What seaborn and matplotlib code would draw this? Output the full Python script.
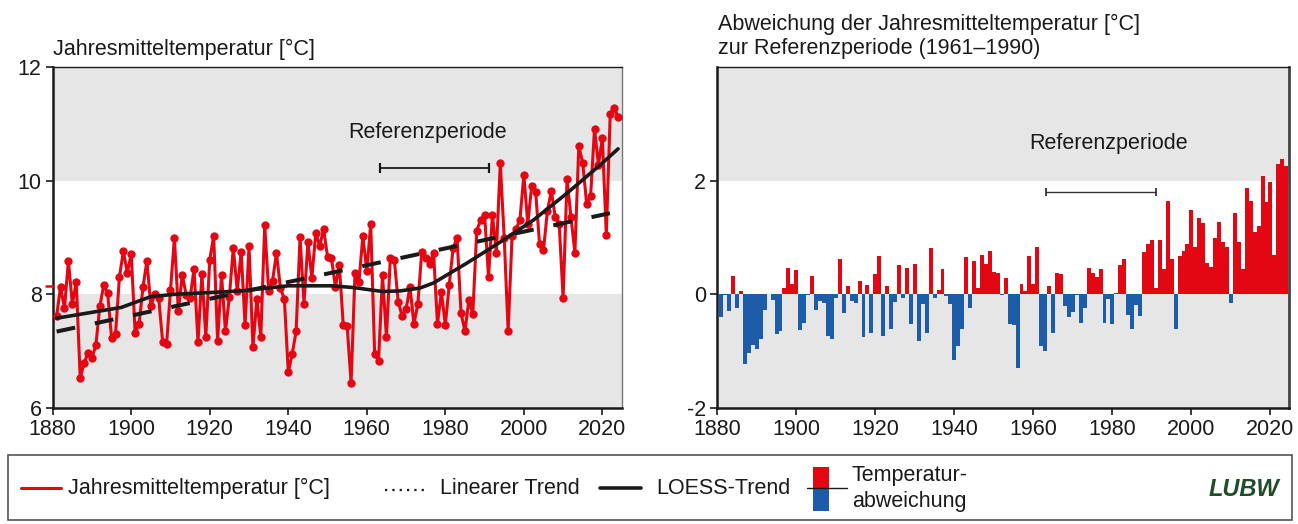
import numpy as np
import pandas as pd
import matplotlib
matplotlib.use("Agg")
import matplotlib.pyplot as plt
from matplotlib.patches import Rectangle
import seaborn as sns

# ---------------------------------------------------------------- data
years = list(range(1881, 2025))

# annual mean temperature [°C]
temperature = [
    7.62, 8.13, 7.76, 8.59, 7.83, 8.22, 6.53, 6.79, 6.97, 6.88,
    7.11, 7.79, 8.16, 8.02, 7.23, 7.30, 8.31, 8.76, 8.38, 8.71,
    7.32, 7.48, 8.13, 8.59, 7.79, 8.01, 7.93, 7.17, 7.12, 8.07,
    8.99, 7.71, 8.34, 7.99, 7.94, 8.45, 7.16, 8.36, 7.25, 8.61,
    9.03, 7.18, 8.34, 7.35, 7.96, 8.82, 8.06, 8.75, 7.46, 8.85,
    7.07, 7.92, 7.25, 9.22, 8.06, 8.24, 8.73, 8.11, 7.92, 6.63,
    6.95, 7.35, 9.01, 7.83, 8.92, 8.29, 9.08, 8.85, 9.15, 8.66,
    8.64, 8.13, 8.52, 7.46, 7.44, 6.44, 8.38, 8.22, 9.03, 8.41,
    9.24, 6.95, 6.83, 8.34, 7.25, 8.64, 8.61, 7.87, 7.62, 7.74,
    8.13, 7.48, 7.83, 8.75, 8.64, 8.54, 8.73, 7.48, 8.04, 7.46,
    8.17, 8.82, 8.99, 7.67, 7.35, 7.90, 7.65, 9.12, 9.31, 9.40,
    8.31, 9.40, 8.73, 10.31, 8.99, 7.35, 9.03, 9.15, 9.31, 10.10,
    9.24, 9.91, 9.80, 8.89, 8.78, 9.47, 9.82, 9.36, 9.24, 7.94,
    10.03, 9.36, 8.73, 10.61, 10.31, 9.59, 9.73, 10.91, 10.28, 10.75,
    9.05, 11.17, 11.28, 11.12,
]

# deviation from the 1961-1990 reference period [°C]
anomaly = [
    -0.40, -0.02, -0.29, 0.33, -0.24, 0.05, -1.23, -1.03, -0.89, -0.96,
    -0.79, -0.28, 0.01, -0.10, -0.70, -0.65, 0.12, 0.46, 0.18, 0.43,
    -0.63, -0.51, -0.02, 0.33, -0.28, -0.11, -0.16, -0.74, -0.78, -0.06,
    0.63, -0.33, 0.14, -0.12, -0.16, 0.23, -0.75, 0.16, -0.68, 0.35,
    0.67, -0.73, 0.14, -0.61, -0.14, 0.51, -0.07, 0.46, -0.52, 0.53,
    -0.82, -0.17, -0.68, 0.81, -0.07, 0.07, 0.44, -0.03, -0.17, -1.16,
    -0.91, -0.61, 0.65, -0.24, 0.58, 0.11, 0.70, 0.53, 0.76, 0.39,
    0.37, -0.02, 0.28, -0.52, -0.54, -1.30, 0.18, 0.05, 0.67, 0.19,
    0.83, -0.91, -1.00, 0.14, -0.68, 0.37, 0.35, -0.21, -0.40, -0.31,
    -0.02, -0.51, -0.24, 0.46, 0.37, 0.30, 0.44, -0.51, -0.08, -0.52,
    0.02, 0.51, 0.63, -0.36, -0.61, -0.19, -0.38, 0.74, 0.88, 0.95,
    0.12, 0.95, 0.44, 1.64, 0.63, -0.61, 0.67, 0.76, 0.88, 1.48,
    0.83, 1.34, 1.25, 0.56, 0.48, 1.00, 1.27, 0.92, 0.83, -0.16,
    1.43, 0.92, 0.44, 1.87, 1.64, 1.09, 1.20, 2.09, 1.62, 1.97,
    0.69, 2.29, 2.38, 2.25,
]

# LOESS trend of the annual means
loess_years = [1881, 1897.5, 1905, 1911, 1928, 1940, 1951, 1956.5, 1964,
               1968.5, 1973.5, 1977, 1985.5, 1994, 2002.5, 2011, 2019.5, 2024]
loess_values = [7.58, 7.77, 7.96, 8.00, 8.06, 8.15, 8.15, 8.12, 8.05,
                8.06, 8.11, 8.20, 8.55, 8.92, 9.31, 9.78, 10.28, 10.56]

ref_period = (1961, 1990)
ref_bracket = (1963.3, 1991.0)
x_ticks = [1880, 1900, 1920, 1940, 1960, 1980, 2000, 2020]
left_y_ticks = [6, 8, 10, 12]
right_y_ticks = [-2, 0, 2]

title_left = "Jahresmitteltemperatur [°C]"
title_right = ["Abweichung der Jahresmitteltemperatur [°C]",
               "zur Referenzperiode (1961–1990)"]
ref_label = "Referenzperiode"

# ---------------------------------------------------------------- style
sns.set_theme(style="white")
plt.rcParams["font.family"] = ["Liberation Sans", "DejaVu Sans"]
plt.rcParams["axes.unicode_minus"] = False

RED = "#e30613"
BLUE = "#1d5ca8"
BAND = "#e6e6e6"
INK = "#1a1a1a"
FS = 15.5

W, H = 1298, 524
fig = plt.figure(figsize=(W / 100, H / 100), dpi=100)


def box(x0, y0, x1, y1):
    return [x0 / W, 1 - y1 / H, (x1 - x0) / W, (y1 - y0) / H]


ax1 = fig.add_axes(box(52.7, 67, 622, 408))
ax2 = fig.add_axes(box(717.3, 67, 1289, 408))

df = pd.DataFrame({"Jahr": years, "Temperatur": temperature, "Abweichung": anomaly})
df["Vorzeichen"] = np.where(df["Abweichung"] >= 0, "warm", "kalt")
coef = np.polyfit(df["Jahr"], df["Temperatur"], 1)
df["Linear"] = np.polyval(coef, df["Jahr"])
ref_mean = df.loc[df["Jahr"].between(*ref_period), "Temperatur"].mean()

# ---------------------------------------------------------------- left panel
ax1.axhspan(10, 12, color=BAND, lw=0, zorder=0)
ax1.axhspan(6, 8, color=BAND, lw=0, zorder=0)
sns.lineplot(data=df, x="Jahr", y="Temperatur", ax=ax1, color=RED, lw=2.2,
             marker="o", markersize=6, markeredgewidth=0, zorder=3)
sns.lineplot(data=df, x="Jahr", y="Linear", ax=ax1, color=INK, lw=2.9,
             linestyle=(0, (4.7, 5.0)), dash_capstyle="butt", zorder=4)
sns.lineplot(x=loess_years, y=loess_values, ax=ax1, color=INK, lw=2.6, zorder=4)
ax1.plot([-0.012, 0], [ref_mean, ref_mean], transform=ax1.get_yaxis_transform(),
         color=RED, lw=1.8, clip_on=False, zorder=6)
ax1.text(1975.5, 10.85, ref_label, ha="center", va="center", fontsize=FS, color=INK)
ax1.plot(list(ref_bracket), [10.22, 10.22], color=INK, lw=1.3, marker="|",
         markersize=7, markeredgewidth=1.6)
ax1.set_xlim(1880, 2025)
ax1.set_ylim(6, 12)
ax1.set_yticks(left_y_ticks)

# ---------------------------------------------------------------- right panel
ax2.axhspan(2, 4, color=BAND, lw=0, zorder=0)
ax2.axhspan(-2, 0, color=BAND, lw=0, zorder=0)
sns.barplot(data=df, x="Jahr", y="Abweichung", hue="Vorzeichen",
            palette={"warm": RED, "kalt": BLUE}, saturation=1,
            native_scale=True, width=1.0, dodge=False, errorbar=None,
            legend=False, linewidth=0, antialiased=False, ax=ax2, zorder=2)
ax2.text(1979, 2.65, ref_label, ha="center", va="center", fontsize=FS, color=INK)
ax2.plot(list(ref_bracket), [1.8, 1.8], color="#333333", lw=1.0, marker="|",
         markersize=6, markeredgewidth=1.3)
ax2.set_xlim(1880, 2024.7)
ax2.set_ylim(-2, 4)
ax2.set_yticks(right_y_ticks)

for ax in (ax1, ax2):
    ax.set_facecolor("white")
    ax.set_xticks(x_ticks)
    ax.set_xlabel("")
    ax.set_ylabel("")
    ax.grid(False)
    ax.tick_params(axis="both", which="major", bottom=True, left=True,
                   direction="out", length=5, width=1.2, color=INK,
                   labelsize=FS, labelcolor=INK, pad=3)
    for side in ("left", "bottom"):
        ax.spines[side].set(linewidth=1.8, color=INK)
    ax.spines["top"].set(linewidth=1.0, color=INK)
ax1.spines["right"].set(linewidth=1.0, color="#777777")
ax2.spines["right"].set(linewidth=2.0, color="#444444")

# ---------------------------------------------------------------- titles & legend
ov = fig.add_axes([0, 0, 1, 1], zorder=10)
ov.set_xlim(0, W)
ov.set_ylim(H, 0)
ov.axis("off")

ov.text(53, 55, title_left, fontsize=FS, color=INK, va="baseline")
ov.text(718, 30, title_right[0], fontsize=FS, color=INK, va="baseline")
ov.text(718, 54, title_right[1], fontsize=FS, color=INK, va="baseline")

ov.add_patch(Rectangle((8, 455), 1284, 65, fill=False, ec="#555555", lw=1.2))
ov.plot([21, 61], [488, 488], color=RED, lw=2.2)
ov.text(68, 488, "Jahresmitteltemperatur [°C]", fontsize=FS, color=INK, va="center")
ov.plot([385, 429], [490, 490], color=INK, lw=1.6, linestyle=(0, (1, 2.3)))
ov.text(440, 488, "Linearer Trend", fontsize=FS, color=INK, va="center")
ov.plot([600, 641], [488, 488], color=INK, lw=2.6)
ov.text(656, 488, "LOESS-Trend", fontsize=FS, color=INK, va="center")
ov.add_patch(Rectangle((813, 467), 16, 21, color=RED, lw=0))
ov.add_patch(Rectangle((813, 488), 16, 23, color=BLUE, lw=0))
ov.plot([807, 847], [488, 488], color=INK, lw=1.0)
ov.text(852, 476, "Temperatur-", fontsize=FS, color=INK, va="center")
ov.text(852, 501, "abweichung", fontsize=FS, color=INK, va="center")
ov.text(1244, 489, "LUBW", fontsize=17, fontweight="bold", fontstyle="italic",
        color="#1f4d2a", ha="center", va="center")

fig.savefig("out.png", dpi=100)
